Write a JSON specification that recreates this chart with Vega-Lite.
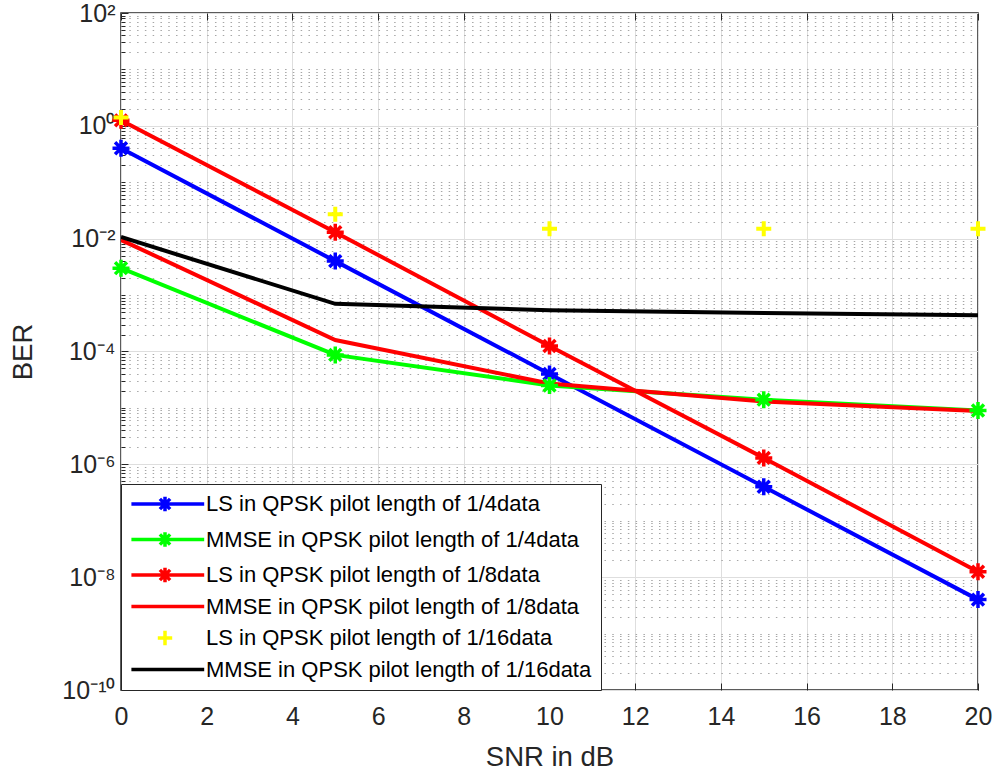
{
  "$schema": "https://vega.github.io/schema/vega-lite/v6.json",
  "width": 857,
  "height": 677,
  "autosize": {"type": "none"},
  "padding": {"left": 121, "top": 13, "right": 16, "bottom": 84},
  "background": "white",
  "config": {
    "font": "Liberation Sans",
    "view": {"stroke": "#262626", "strokeWidth": 1.5},
    "axis": {"domain": false, "labelFont": "Liberation Sans", "titleFont": "Liberation Sans", "labelColor": "#262626", "titleColor": "#262626", "tickColor": "#262626", "titleFontWeight": "normal"},
    "legend": {
      "orient": "bottom-left",
      "offset": 0,
      "padding": 9,
      "strokeColor": "#262626",
      "fillColor": "white",
      "labelFont": "Liberation Sans",
      "labelFontSize": 22,
      "labelColor": "#000000",
      "labelLimit": 600,
      "symbolSize": 256,
      "symbolStrokeWidth": 3.5,
      "symbolOpacity": 1,
      "labelOffset": 54,
      "rowPadding": 5.5
    }
  },
  "data": {
    "values": [
      {"series": "LS in QPSK pilot length of 1/4data", "snr": 0, "ber": 0.4},
      {"series": "LS in QPSK pilot length of 1/4data", "snr": 5, "ber": 0.004},
      {"series": "LS in QPSK pilot length of 1/4data", "snr": 10, "ber": 4e-5},
      {"series": "LS in QPSK pilot length of 1/4data", "snr": 15, "ber": 4e-7},
      {"series": "LS in QPSK pilot length of 1/4data", "snr": 20, "ber": 4e-9},
      {"series": "MMSE in QPSK pilot length of 1/4data", "snr": 0, "ber": 0.003},
      {"series": "MMSE in QPSK pilot length of 1/4data", "snr": 5, "ber": 8.7e-5},
      {"series": "MMSE in QPSK pilot length of 1/4data", "snr": 10, "ber": 2.5e-5},
      {"series": "MMSE in QPSK pilot length of 1/4data", "snr": 15, "ber": 1.4e-5},
      {"series": "MMSE in QPSK pilot length of 1/4data", "snr": 20, "ber": 9e-6},
      {"series": "LS in QPSK pilot length of 1/8data", "snr": 0, "ber": 1.25},
      {"series": "LS in QPSK pilot length of 1/8data", "snr": 5, "ber": 0.013},
      {"series": "LS in QPSK pilot length of 1/8data", "snr": 10, "ber": 1.25e-4},
      {"series": "LS in QPSK pilot length of 1/8data", "snr": 15, "ber": 1.3e-6},
      {"series": "LS in QPSK pilot length of 1/8data", "snr": 20, "ber": 1.25e-8},
      {"series": "MMSE in QPSK pilot length of 1/8data", "snr": 0, "ber": 0.0095},
      {"series": "MMSE in QPSK pilot length of 1/8data", "snr": 5, "ber": 1.6e-4},
      {"series": "MMSE in QPSK pilot length of 1/8data", "snr": 10, "ber": 2.7e-5},
      {"series": "MMSE in QPSK pilot length of 1/8data", "snr": 15, "ber": 1.3e-5},
      {"series": "MMSE in QPSK pilot length of 1/8data", "snr": 20, "ber": 8.8e-6},
      {"series": "LS in QPSK pilot length of 1/16data", "snr": 0, "ber": 1.4},
      {"series": "LS in QPSK pilot length of 1/16data", "snr": 5, "ber": 0.027},
      {"series": "LS in QPSK pilot length of 1/16data", "snr": 10, "ber": 0.015},
      {"series": "LS in QPSK pilot length of 1/16data", "snr": 15, "ber": 0.015},
      {"series": "LS in QPSK pilot length of 1/16data", "snr": 20, "ber": 0.015},
      {"series": "MMSE in QPSK pilot length of 1/16data", "snr": 0, "ber": 0.0107},
      {"series": "MMSE in QPSK pilot length of 1/16data", "snr": 5, "ber": 7e-4},
      {"series": "MMSE in QPSK pilot length of 1/16data", "snr": 10, "ber": 5.4e-4},
      {"series": "MMSE in QPSK pilot length of 1/16data", "snr": 15, "ber": 4.8e-4},
      {"series": "MMSE in QPSK pilot length of 1/16data", "snr": 20, "ber": 4.4e-4}
    ]
  },
  "resolve": {"axis": {"x": "independent", "y": "independent"}},
  "layer": [
    {
      "transform": [{"filter": "datum.series != 'LS in QPSK pilot length of 1/16data'"}],
      "mark": {"type": "line", "strokeWidth": 4, "clip": true},
      "encoding": {
        "x": {"field": "snr", "type": "quantitative",
          "scale": {"domain": [0, 20], "nice": false, "zero": false},
          "axis": {"orient": "bottom", "values": [0, 2, 4, 6, 8, 10, 12, 14, 16, 18, 20], "title": "SNR in dB", "titleFontSize": 27.5, "titlePadding": 14, "labelFontSize": 25, "labelPadding": 21, "tickSize": -7, "tickWidth": 1, "grid": true, "gridColor": "#dedede", "gridWidth": 1, "labelFlush": false}},
        "y": {"field": "ber", "type": "quantitative",
          "scale": {"type": "log", "domain": [1e-10, 100], "nice": false},
          "axis": {"orient": "left", "values": [1e-10, 1e-8, 1e-6, 1e-4, 1e-2, 1, 100], "title": "BER", "titleFontSize": 27.5, "titlePadding": 24, "labelFontSize": 25, "labelPadding": 13, "tickSize": -7, "grid": true, "gridColor": "#dedede", "gridWidth": 1, "labelFlush": false,
            "labelExpr": "datum.value >= 99 ? '10²' : datum.value >= 0.99 ? '10⁰' : datum.value >= 0.0099 ? '10⁻²' : datum.value >= 0.000099 ? '10⁻⁴' : datum.value >= 9.9e-7 ? '10⁻⁶' : datum.value >= 9.9e-9 ? '10⁻⁸' : '10⁻¹⁰'"}},
        "stroke": {"field": "series", "type": "nominal",
          "scale": {"domain": ["LS in QPSK pilot length of 1/16data", "LS in QPSK pilot length of 1/4data", "LS in QPSK pilot length of 1/8data", "MMSE in QPSK pilot length of 1/16data", "MMSE in QPSK pilot length of 1/4data", "MMSE in QPSK pilot length of 1/8data"],
            "range": ["#ffff00", "#0000ff", "#ff0000", "#000000", "#00ff00", "#ff0000"]},
          "legend": null},
        "order": {"field": "snr"}
      }
    },
    {
      "transform": [{"filter": "datum.series == 'LS in QPSK pilot length of 1/4data' || datum.series == 'MMSE in QPSK pilot length of 1/4data' || datum.series == 'LS in QPSK pilot length of 1/8data'"}],
      "mark": {"type": "point", "filled": false, "strokeWidth": 3.5, "size": 289, "opacity": 1, "shape": "M-1,0L1,0M0,-1L0,1M-0.7,-0.7L0.7,0.7M-0.7,0.7L0.7,-0.7"},
      "encoding": {
        "x": {"field": "snr", "type": "quantitative",
          "axis": {"orient": "top", "values": [0, 2, 4, 6, 8, 10, 12, 14, 16, 18, 20], "labels": false, "title": null, "grid": false, "tickSize": -7}},
        "y": {"field": "ber", "type": "quantitative",
          "axis": {"orient": "left", "values": [2e-10, 3e-10, 4e-10, 5e-10, 6e-10, 7e-10, 8e-10, 9e-10, 1e-9, 2e-9, 3e-9, 4e-9, 5e-9, 6e-9, 7e-9, 8e-9, 9e-9, 2e-8, 3e-8, 4e-8, 5e-8, 6e-8, 7e-8, 8e-8, 9e-8, 1e-7, 2e-7, 3e-7, 4e-7, 5e-7, 6e-7, 7e-7, 8e-7, 9e-7, 2e-6, 3e-6, 4e-6, 5e-6, 6e-6, 7e-6, 8e-6, 9e-6, 1e-5, 2e-5, 3e-5, 4e-5, 5e-5, 6e-5, 7e-5, 8e-5, 9e-5, 2e-4, 3e-4, 4e-4, 5e-4, 6e-4, 7e-4, 8e-4, 9e-4, 1e-3, 2e-3, 3e-3, 4e-3, 5e-3, 6e-3, 7e-3, 8e-3, 9e-3, 2e-2, 3e-2, 4e-2, 5e-2, 6e-2, 7e-2, 8e-2, 9e-2, 0.1, 0.2, 0.3, 0.4, 0.5, 0.6, 0.7, 0.8, 0.9, 2, 3, 4, 5, 6, 7, 8, 9, 10, 20, 30, 40, 50, 60, 70, 80, 90],
            "labels": false, "title": null, "tickSize": -4, "grid": true, "gridColor": "#a6a6a6", "gridWidth": 1, "gridDash": [1.5, 6.29]}},
        "stroke": {"field": "series", "type": "nominal", "legend": null}
      }
    },
    {
      "transform": [{"filter": "datum.series == 'LS in QPSK pilot length of 1/16data'"}],
      "mark": {"type": "point", "filled": false, "strokeWidth": 4, "size": 225, "opacity": 1, "shape": "M-1,0L1,0M0,-1L0,1"},
      "encoding": {
        "x": {"field": "snr", "type": "quantitative", "axis": null},
        "y": {"field": "ber", "type": "quantitative", "axis": null},
        "stroke": {"field": "series", "type": "nominal", "legend": null}
      }
    },
    {
      "mark": {"type": "point", "filled": false, "opacity": 0, "strokeWidth": 3.5},
      "encoding": {
        "x": {"field": "snr", "type": "quantitative", "axis": null},
        "y": {"field": "ber", "type": "quantitative", "axis": null},
        "color": {"field": "series", "type": "nominal",
          "scale": {"domain": ["LS in QPSK pilot length of 1/4data", "MMSE in QPSK pilot length of 1/4data", "LS in QPSK pilot length of 1/8data", "MMSE in QPSK pilot length of 1/8data", "LS in QPSK pilot length of 1/16data", "MMSE in QPSK pilot length of 1/16data"],
            "range": ["#0000ff", "#00ff00", "#ff0000", "#ff0000", "#ffff00", "#000000"]},
          "legend": {"title": null}},
        "shape": {"field": "series", "type": "nominal",
          "scale": {"domain": ["LS in QPSK pilot length of 1/4data", "MMSE in QPSK pilot length of 1/4data", "LS in QPSK pilot length of 1/8data", "MMSE in QPSK pilot length of 1/8data", "LS in QPSK pilot length of 1/16data", "MMSE in QPSK pilot length of 1/16data"],
            "range": [
              "M-1.2,0L7.9,0M2.1,0L3.9,0M3,-0.9L3,0.9M2.36,-0.64L3.64,0.64M2.36,0.64L3.64,-0.64",
              "M-1.2,0L7.9,0M2.1,0L3.9,0M3,-0.9L3,0.9M2.36,-0.64L3.64,0.64M2.36,0.64L3.64,-0.64",
              "M-1.2,0L7.9,0M2.1,0L3.9,0M3,-0.9L3,0.9M2.36,-0.64L3.64,0.64M2.36,0.64L3.64,-0.64",
              "M-1.2,0L7.9,0",
              "M2.1,0L3.9,0M3,-0.9L3,0.9",
              "M-1.2,0L7.9,0"
            ]},
          "legend": {"title": null}}
      }
    }
  ]
}
